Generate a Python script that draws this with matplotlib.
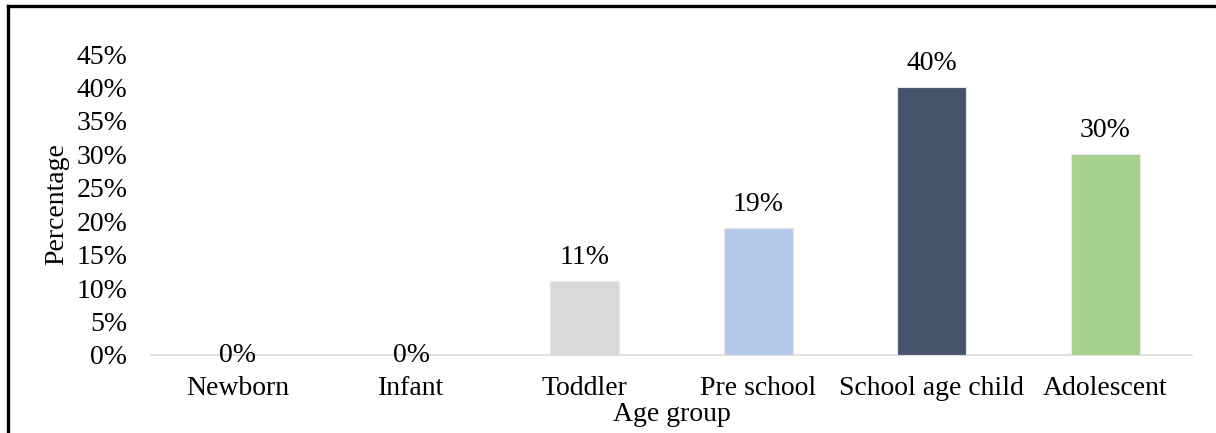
import matplotlib.pyplot as plt
from matplotlib.lines import Line2D

plt.rcParams['font.family'] = ['Liberation Serif', 'DejaVu Serif']

age_groups = ["Newborn", "Infant", "Toddler", "Pre school", "School age child", "Adolescent"]
percentages = [0, 0, 11, 19, 40, 30]
bar_colors = ["#d9d9d9", "#d9d9d9", "#d9d9d9", "#b4c7e7", "#44546a", "#a9d18e"]
y_ticks = [0, 5, 10, 15, 20, 25, 30, 35, 40, 45]

FS = 20
W, H = 1216, 433
fig = plt.figure(figsize=(W / 100, H / 100), dpi=100)
ax = fig.add_axes([151 / W, (H - 355) / H, (1192 - 151) / W, (355 - 54) / H])

x = range(len(age_groups))
ax.bar(x, percentages, width=0.4, color=bar_colors, edgecolor="#e8e8e8", linewidth=0.8, zorder=2)

for xi, v in zip(x, percentages):
    dy = 17 if v > 0 else 0
    ax.annotate(f"{v}%", (xi, v), xytext=(0, dy), textcoords="offset points",
                ha="center", va="center", fontsize=FS)

ax.set_xlim(-0.5, len(age_groups) - 0.5)
ax.set_ylim(0, 45)
ax.set_yticks(y_ticks)
ax.set_yticklabels([f"{t}%" for t in y_ticks], fontsize=FS)
ax.set_xticks(list(x))
ax.set_xticklabels(age_groups, fontsize=FS)
ax.tick_params(axis="y", length=0, pad=17)
ax.tick_params(axis="x", length=0, pad=15)

for side in ["top", "right", "left"]:
    ax.spines[side].set_visible(False)
ax.spines["bottom"].set_color("#d9d9d9")
ax.spines["bottom"].set_linewidth(1.2)
ax.spines["bottom"].set_zorder(1)

ax.set_xlabel("Age group", fontsize=FS)
ax.set_ylabel("Percentage", fontsize=FS)
ax.xaxis.set_label_coords(0.5, -0.155)
ax.yaxis.set_label_coords(-0.079, 0.5)

# outer frame: only left and top edges are drawn
fig.add_artist(Line2D([8 / W, 8 / W], [0, 1 - 6 / H], color="black", linewidth=2.4, transform=fig.transFigure))
fig.add_artist(Line2D([8 / W, 1], [1 - 6 / H, 1 - 6 / H], color="black", linewidth=2.4, transform=fig.transFigure))

fig.savefig("out.png", dpi=100)
